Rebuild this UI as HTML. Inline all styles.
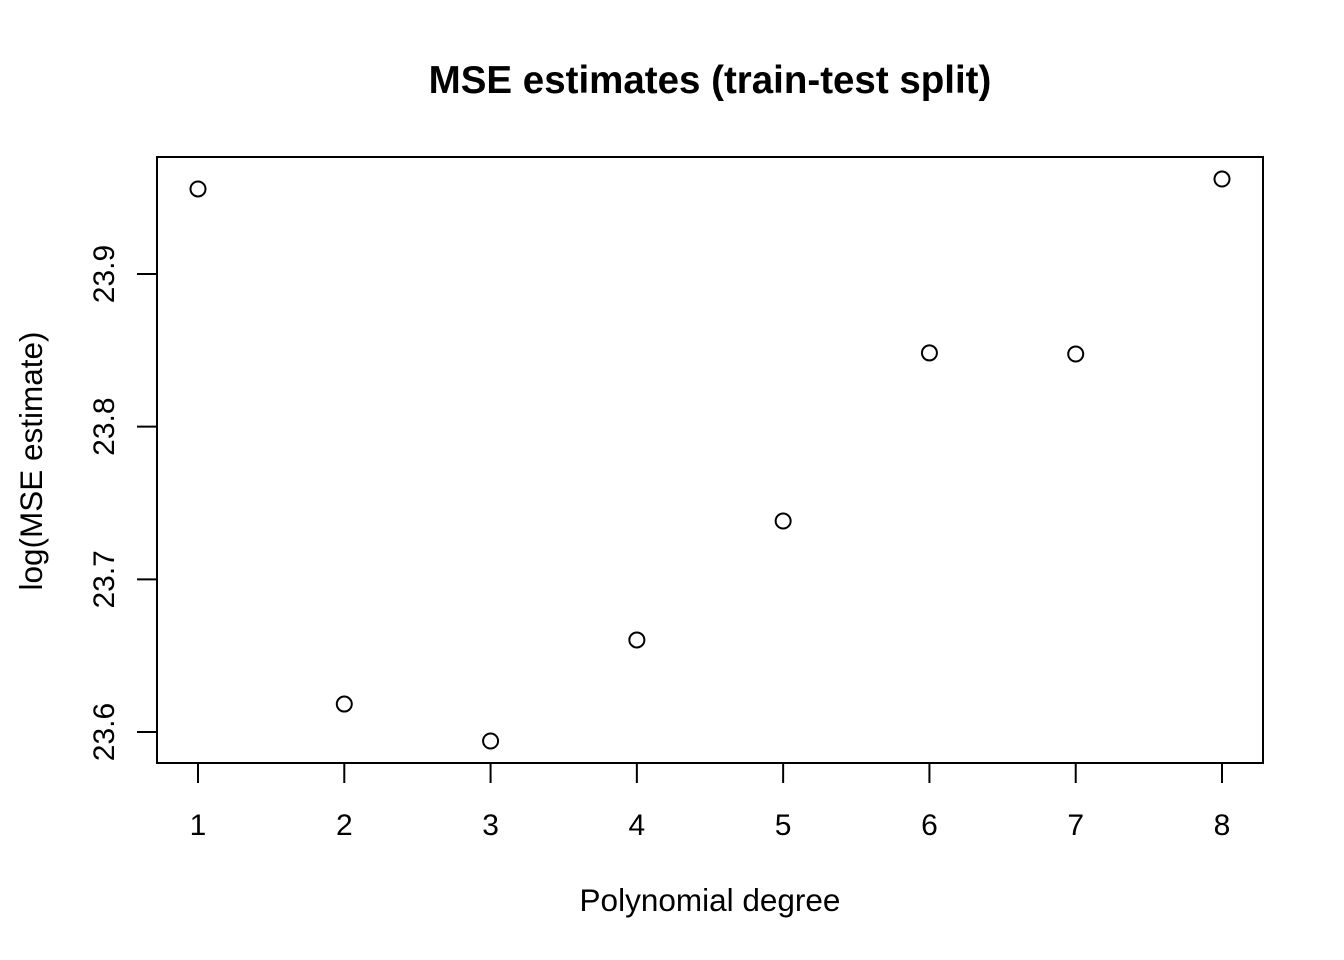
<!DOCTYPE html>
<html><head><meta charset="utf-8"><style>
html,body{margin:0;padding:0;background:#fff;}
svg{display:block;font-family:"Liberation Sans",Arial,sans-serif;}
</style></head><body>
<svg id="chart" width="1344" height="960" viewBox="0 0 1344 960">
<text x="710" y="93" text-anchor="middle" font-size="38.5" font-weight="bold">MSE estimates (train-test split)</text>
<rect x="157" y="157" width="1106" height="606" fill="none" stroke="#000" stroke-width="2"/>
<g id="xaxis"></g>
<g id="yaxis"></g>
<g id="points"></g>
<text x="710" y="911" text-anchor="middle" font-size="31.5">Polynomial degree</text>
<text transform="translate(42,461) rotate(-90)" text-anchor="middle" font-size="31.5">log(MSE estimate)</text>
</svg>
<script>
const degrees = [1,2,3,4,5,6,7,8];
const mseLog = [23.9557,23.6183,23.5941,23.6603,23.7382,23.8483,23.8476,23.9622];
const xTicks = [1,2,3,4,5,6,7,8];
const yTicks = [23.6,23.7,23.8,23.9];
const yTickLabels = ["23.6","23.7","23.8","23.9"];
const NS="http://www.w3.org/2000/svg";
function xs(v){return 198+(v-1)*(1222-198)/7;}
function ys(v){return 732-(v-23.6)*(732-274)/0.3;}
function mk(tag,attrs,parent,text){const e=document.createElementNS(NS,tag);for(const k in attrs)e.setAttribute(k,attrs[k]);if(text!==undefined)e.textContent=text;parent.appendChild(e);return e;}
const xa=document.getElementById('xaxis'),ya=document.getElementById('yaxis'),pg=document.getElementById('points');
mk('line',{x1:xs(xTicks[0]),x2:xs(xTicks[xTicks.length-1]),y1:763,y2:763,stroke:'#000','stroke-width':2},xa);
xTicks.forEach(t=>{
  const l=mk('line',{x1:xs(t),x2:xs(t),y1:763,y2:783,stroke:'#000','stroke-width':2},xa);
  
  
  const tx=mk('text',{x:xs(t),y:835,'text-anchor':'middle','font-size':30},xa,String(t));
  
  
});
mk('line',{x1:157,x2:157,y1:ys(yTicks[0]),y2:ys(yTicks[yTicks.length-1]),stroke:'#000','stroke-width':2},ya);
yTicks.forEach((t,i)=>{
  const l=mk('line',{x1:137,x2:157,y1:ys(t),y2:ys(t),stroke:'#000','stroke-width':2},ya);
  
  
  const tx=mk('text',{transform:`translate(114,${ys(t)}) rotate(-90)`,'text-anchor':'middle','font-size':30},ya,yTickLabels[i]);
  
  
});
degrees.forEach((d,i)=>{
  const c=mk('circle',{cx:xs(d),cy:ys(mseLog[i]),r:7.5,fill:'none',stroke:'#000','stroke-width':2},pg);
  
  
});
</script>
</body></html>
